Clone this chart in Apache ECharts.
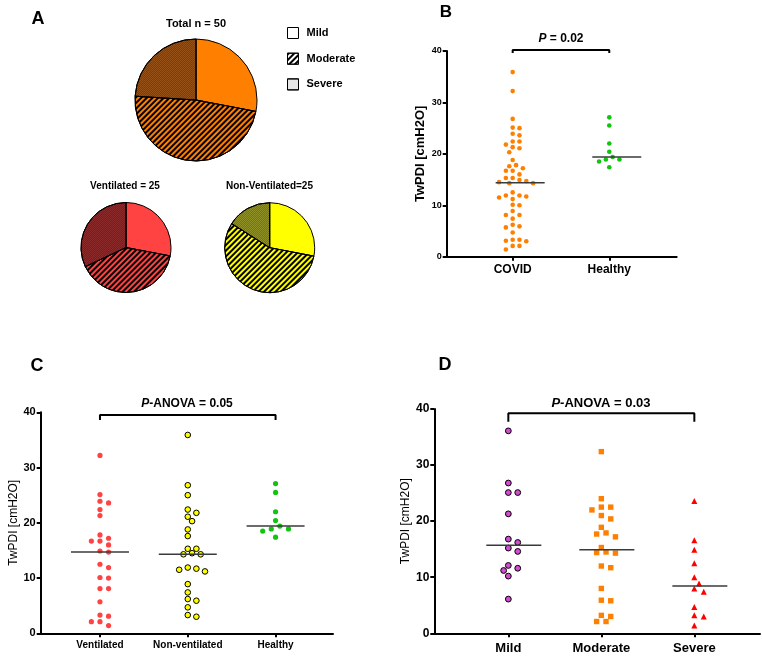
<!DOCTYPE html>
<html><head><meta charset="utf-8">
<script src="https://cdn.jsdelivr.net/npm/echarts@6/dist/echarts.min.js"></script>
<style>html,body{margin:0;padding:0;background:#fff}#c{width:762px;height:657px}</style>
</head><body><div id="c"></div>
<script>
// ---------- data ----------
const pieCategories = ['Mild', 'Moderate', 'Severe'];
const totalCounts = [14, 24, 12];
const ventCounts = [7, 10, 8];
const nonVentCounts = [7, 14, 4];

const bCategories = ['COVID', 'Healthy'];
const cCategories = ['Ventilated', 'Non-ventilated', 'Healthy'];
const dCategories = ['Mild', 'Moderate', 'Severe'];
const yTicks = [0, 10, 20, 30, 40];

const ventilated = [32.2, 25.1, 23.9, 23.6, 22.4, 21.3, 17.8, 17.2, 16.7, 16.7, 16.0, 14.9, 14.7, 12.5, 11.9, 10.1, 10.0, 8.1, 8.1, 5.7, 3.3, 3.1, 2.1, 2.1, 1.4];
const nonVentilated = [35.9, 26.8, 25.0, 22.4, 21.8, 21.1, 20.3, 18.8, 17.6, 15.3, 15.3, 14.5, 14.3, 14.3, 11.9, 11.7, 11.5, 11.2, 8.9, 7.4, 6.2, 5.9, 4.7, 3.3, 3.0];
const healthy = [27.1, 25.5, 22.0, 20.4, 19.4, 18.9, 18.9, 18.5, 17.4];
const covid = ventilated.concat(nonVentilated);
const mild = [36.1, 26.8, 25.1, 25.1, 21.3, 16.8, 16.2, 15.2, 14.6, 12.1, 11.6, 11.2, 10.2, 6.1];
const moderate = [32.4, 24.0, 22.5, 22.5, 22.0, 21.0, 20.4, 18.9, 17.9, 17.7, 17.2, 15.3, 14.5, 14.4, 14.3, 12.0, 11.7, 8.0, 5.9, 5.8, 3.2, 3.0, 2.1, 2.1];
const severe = [23.6, 16.6, 14.9, 12.5, 10.0, 8.9, 8.0, 7.4, 4.7, 3.2, 3.0, 1.4];

const pValueB = '0.02';
const pValueC = '0.05';
const pValueD = '0.03';

// ---------- helpers ----------
const FONT = "'Liberation Sans', Arial, sans-serif";
const Y_MIN = yTicks[0], Y_MAX = yTicks[yTicks.length - 1];

function median(arr) {
  const s = arr.slice().sort((a, b) => a - b);
  const n = s.length;
  return n % 2 ? s[(n - 1) / 2] : (s[n / 2 - 1] + s[n / 2]) / 2;
}
// greedy beeswarm layout (pixel offsets), computed from the values only
function swarm(values, pxY, d, step) {
  const order = values.map((v, i) => i).sort((a, b) => values[b] - values[a]);
  const placed = [];
  const offs = new Array(values.length).fill(0);
  for (const i of order) {
    const y = values[i] * pxY;
    for (let k = 0; k < 60; k++) {
      const cand = k === 0 ? 0 : (k % 2 ? 1 : -1) * Math.ceil(k / 2) * step;
      if (placed.every(p => (p.x - cand) ** 2 + (p.y - y) ** 2 >= d * d)) {
        placed.push({ x: cand, y }); offs[i] = cand; break;
      }
    }
  }
  return offs;
}

const panels = [
  { grid: { left: 446.7, top: 51, width: 230, height: 205.7 }, xMin: -0.683, xMax: 1.698,
    cats: bCategories, tickFont: 9, catFont: 12, nameFont: 13, nameBold: 'bold', nameGap: 19.5, catMargin: 7,
    medL: 17, medR: 32, bracketTop: -1, bracketDrop: 3, d: 5.4, step: 3.4 },
  { grid: { left: 40.7, top: 412.3, width: 292.3, height: 221 }, xMin: -0.675, xMax: 2.654,
    cats: cCategories, tickFont: 11, catFont: 10, nameFont: 12, nameBold: 'normal', nameGap: 21.5, catMargin: 7,
    medL: 29, medR: 29, bracketTop: 2.7, bracketDrop: 5, d: 6.0, step: 4.3 },
  { grid: { left: 434.3, top: 409, width: 325.7, height: 224.3 }, xMin: -0.796, xMax: 2.706,
    cats: dCategories, tickFont: 12, catFont: 13, nameFont: 12, nameBold: 'normal', nameGap: 20.5, catMargin: 9,
    medL: 22, medR: 33, bracketTop: 4.3, bracketDrop: 8.4, d: 6.4, step: 4.7 }
];

const groups = [
  [{ v: covid, color: '#FF8000', symbol: 'circle', size: 4.6, border: null },
   { v: healthy, color: '#11C411', symbol: 'circle', size: 4.6, border: null }],
  [{ v: ventilated, color: '#FF4343', symbol: 'circle', size: 5.2, border: null },
   { v: nonVentilated, color: '#FFFF00', symbol: 'circle', size: 5.6, border: '#000' },
   { v: healthy, color: '#11C411', symbol: 'circle', size: 5.2, border: null }],
  [{ v: mild, color: '#D24BD2', symbol: 'circle', size: 5.8, border: '#000' },
   { v: moderate, color: '#FF8000', symbol: 'rect', size: 5.4, border: null },
   { v: severe, color: '#FF0000', symbol: 'triangle', size: 6, border: null }]
];

const grids = [], xAxes = [], yAxes = [], series = [];
panels.forEach((p, gi) => {
  grids.push(Object.assign({ containLabel: false }, p.grid));
  const pxY = p.grid.height / (Y_MAX - Y_MIN);
  const pxX = p.grid.width / (p.xMax - p.xMin);
  const idx = p.cats.map((c, i) => i);
  xAxes.push({
    gridIndex: gi, type: 'value', min: p.xMin, max: p.xMax,
    axisLine: { show: true, onZero: false, lineStyle: { color: '#000', width: 2 } },
    axisTick: { show: true, customValues: idx, length: 4, lineStyle: { color: '#000', width: 2 } },
    axisLabel: { customValues: idx, formatter: v => p.cats[Math.round(v)], color: '#000',
      fontWeight: 'bold', fontSize: p.catFont, fontFamily: FONT, margin: p.catMargin },
    splitLine: { show: false }
  });
  yAxes.push({
    gridIndex: gi, type: 'value', min: Y_MIN, max: Y_MAX, interval: 10,
    name: 'TwPDI [cmH2O]', nameLocation: 'middle', nameGap: p.nameGap,
    nameTextStyle: { color: '#000', fontWeight: p.nameBold, fontSize: p.nameFont, fontFamily: FONT },
    axisLine: { show: true, onZero: false, lineStyle: { color: '#000', width: 2 } },
    axisTick: { show: true, length: 4, lineStyle: { color: '#000', width: 2 } },
    axisLabel: { color: '#000', fontWeight: 'bold', fontSize: p.tickFont, fontFamily: FONT, margin: 5 },
    splitLine: { show: false }
  });
  groups[gi].forEach((g, ci) => {
    const offs = swarm(g.v, pxY, p.d, p.step);
    series.push({
      type: 'scatter', xAxisIndex: gi, yAxisIndex: gi, symbol: g.symbol, symbolSize: g.size,
      itemStyle: { color: g.color, opacity: 1, borderColor: g.border || g.color, borderWidth: g.border ? 1 : 0 },
      data: g.v.map((v, i) => [ci + offs[i] / pxX, v]), silent: true, z: 3, clip: false
    });
    const m = median(g.v);
    series.push({
      type: 'line', xAxisIndex: gi, yAxisIndex: gi, symbol: 'none', silent: true, clip: false, z: 4,
      lineStyle: { color: '#3a3a3a', width: 1.5 },
      data: [[ci - p.medL / pxX, m], [ci + p.medR / pxX, m]]
    });
  });
  const top = Y_MAX - p.bracketTop / pxY;
  const bot = top - p.bracketDrop / pxY;
  const last = p.cats.length - 1;
  series.push({
    type: 'line', xAxisIndex: gi, yAxisIndex: gi, symbol: 'none', silent: true, clip: false, z: 5,
    lineStyle: { color: '#000', width: 2 },
    data: [[0, bot], [0, top], [last, top], [last, bot]]
  });
});

// ---------- pies ----------
const stripe = { symbol: 'rect', symbolSize: 1, dashArrayX: [1, 0], dashArrayY: [1.2, 1.8], rotation: -Math.PI / 4, color: '#000' };
const checker = { symbol: 'rect', symbolSize: 1, dashArrayX: [[1, 1], [0, 1, 1, 0]], dashArrayY: [1, 0], color: 'rgba(0,0,0,0.2)' };
function pieData(counts, colors) {
  return pieCategories.map((n, i) => ({
    name: n, value: counts[i],
    itemStyle: { color: colors[i], decal: i === 1 ? stripe : (i === 2 ? checker : null) }
  }));
}
const pieBase = {
  type: 'pie', startAngle: 90, clockwise: true, silent: true, label: { show: false }, labelLine: { show: false },
  itemStyle: { borderColor: '#000', borderWidth: 1 }, emphasis: { disabled: true }
};
series.push(Object.assign({}, pieBase, { center: [196, 100], radius: 61, data: pieData(totalCounts, ['#FF8000', '#FF8000', '#945016']) }));
series.push(Object.assign({}, pieBase, { center: [126, 247.5], radius: 45, data: pieData(ventCounts, ['#FF4343', '#FF4343', '#8A2A2A']) }));
series.push(Object.assign({}, pieBase, { center: [269.7, 247.7], radius: 45, data: pieData(nonVentCounts, ['#FFFF00', '#FFFF00', '#909028']) }));

function label(x, y, text, size) {
  return { type: 'text', x, y, silent: true, style: { text, font: 'bold ' + size + 'px ' + FONT, fill: '#000', textAlign: 'center', textVerticalAlign: 'middle' } };
}
function pLabel(x, y, head, val, size) {
  return { type: 'text', x, y, silent: true, style: {
    text: '{i|P}{b|' + head + val + '}', textAlign: 'center', textVerticalAlign: 'middle',
    rich: { i: { fontStyle: 'italic', fontWeight: 'bold', fontSize: size, fontFamily: FONT, fill: '#000' },
            b: { fontWeight: 'bold', fontSize: size, fontFamily: FONT, fill: '#000' } } } };
}

const option = {
  animation: false,
  grid: grids, xAxis: xAxes, yAxis: yAxes, series,
  legend: {
    data: pieCategories, orient: 'vertical', left: 287, top: 27, padding: 0,
    itemWidth: 11, itemHeight: 11, itemGap: 13.7,
    icon: 'rect', selectedMode: false,
    itemStyle: { color: '#fff', borderColor: '#000', borderWidth: 1 },
    textStyle: { color: '#000', fontWeight: 'bold', fontSize: 11, fontFamily: FONT, padding: [0, 0, 0, 3] }
  },
  graphic: [
    label(38, 19, 'A', 18), label(446, 12, 'B', 17), label(37, 366, 'C', 18), label(445, 365, 'D', 18),
    label(196, 24, 'Total n = 50', 11),
    label(125, 186, 'Ventilated = 25', 10),
    label(269.5, 186, 'Non-Ventilated=25', 10),
    pLabel(561, 39, ' = ', pValueB, 12),
    pLabel(187, 404, '-ANOVA = ', pValueC, 12),
    pLabel(601, 403, '-ANOVA = ', pValueD, 13)
  ]
};
const chart = echarts.init(document.getElementById('c'), null, { renderer: 'canvas' });
chart.setOption(option);
</script></body></html>
